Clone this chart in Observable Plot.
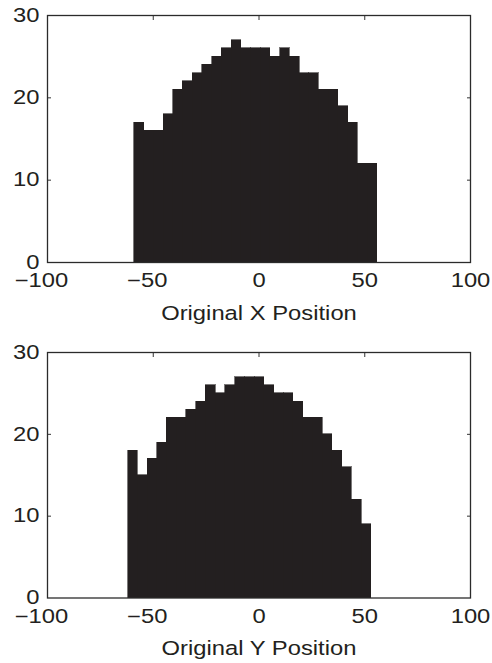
<!DOCTYPE html>
<html>
<head>
<meta charset="utf-8">
<script src="https://cdn.jsdelivr.net/npm/d3@7"></script>
<script src="https://cdn.jsdelivr.net/npm/@observablehq/plot@0.6"></script>
<style>
  html, body { margin: 0; padding: 0; background: #fff; }
  #chart { width: 492px; }
  #chart svg { display: block; }
</style>
</head>
<body>
<div id="chart"></div>
<script>
// Histogram counts, 25 equal-width bins each
const xCounts = [17, 16, 16, 18, 21, 22, 23, 24, 25, 26, 27, 26, 26, 26, 25, 26, 25, 23, 23, 21, 21, 19, 17, 12, 12];
const xBinRange = [-58.9, 55.9];
const yCounts = [18, 15, 17, 19, 22, 22, 23, 24, 26, 25, 26, 27, 27, 27, 26, 25, 25, 24, 22, 22, 20, 18, 16, 12, 9];
const yBinRange = [-61.9, 53.1];

// Axis ticks and titles
const xTicksNeg = [-100, -50];
const xTicksPos = [0, 50, 100];
const yTicks = [0, 10, 20, 30];
const yInnerTicks = [10, 20];
const topTicks = [-50, 0, 50];
const titles = ["Original X Position", "Original Y Position"];

const ink = "#231f20";
const fontFamily = "'Liberation Sans', Arial, Helvetica, sans-serif";

function toBins(counts, range) {
  const w = (range[1] - range[0]) / counts.length;
  return counts.map((c, i) => ({x1: range[0] + i * w, x2: range[0] + (i + 1) * w, count: c}));
}

function histogram(counts, range, title, height, marginTop, marginBottom) {
  const svg = Plot.plot({
    width: 492,
    height,
    marginLeft: 47,
    marginRight: 22,
    marginTop,
    marginBottom,
    x: {domain: [-100, 100]},
    y: {domain: [0, 30]},
    style: {fontFamily, fontSize: "19.5px", color: ink, background: "#fff", overflow: "visible"},
    marks: [
      Plot.rectY(toBins(counts, range), {x1: "x1", x2: "x2", y: "count", fill: ink, stroke: ink, strokeWidth: 0.6, shapeRendering: "crispEdges"}),
      Plot.axisY({anchor: "left", ticks: yTicks, tickSize: 0, tickPadding: 8, label: null}),
      Plot.axisY({anchor: "left", ticks: yInnerTicks, tickSize: -4, text: null, label: null, stroke: "#333"}),
      Plot.axisY({anchor: "right", ticks: yInnerTicks, tickSize: -4, text: null, label: null, stroke: "#333"}),
      Plot.axisX({anchor: "top", ticks: topTicks, tickSize: -4, text: null, label: null, stroke: "#333"}),
      Plot.axisX({anchor: "bottom", ticks: xTicksNeg, tickFormat: d => "\u2212" + Math.abs(d), tickSize: 0, tickPadding: 11, dx: -6, label: null}),
      Plot.axisX({anchor: "bottom", ticks: xTicksPos, tickSize: 0, tickPadding: 11, label: title, labelAnchor: "center", labelArrow: false, labelOffset: 57}),
      Plot.frame({stroke: "#2b2b2b", strokeWidth: 1.3})
    ]
  });
  // Helvetica-style lettering is set a little wide in this figure
  svg.querySelectorAll("text").forEach(t => {
    const tr = t.getAttribute("transform");
    if (tr && !t.hasAttribute("x")) t.setAttribute("transform", tr + " scale(1.22,1)");
  });
  return svg;
}

const root = document.getElementById("chart");
root.append(histogram(xCounts, xBinRange, titles[0], 335, 15, 73));
root.append(histogram(yCounts, yBinRange, titles[1], 328, 17, 65.5));
</script>
</body>
</html>
